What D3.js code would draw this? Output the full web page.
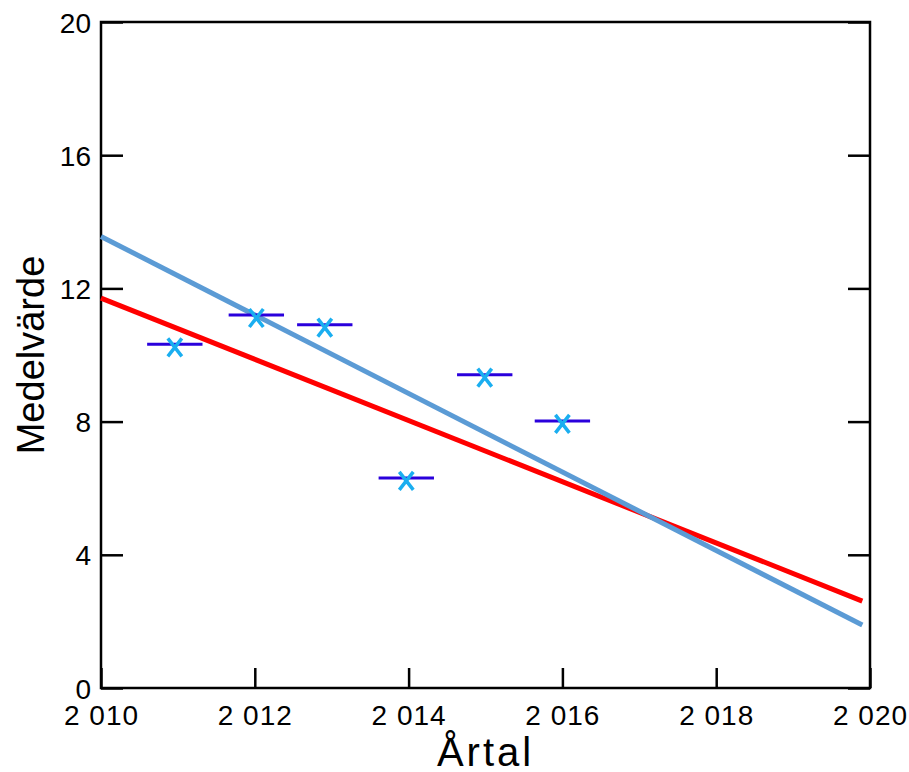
<!DOCTYPE html>
<html>
<head>
<meta charset="utf-8">
<script src="https://cdn.jsdelivr.net/npm/d3@7"></script>
<style>
  body { margin: 0; background: #fff; }
  text { font-family: "Liberation Sans", Arial, sans-serif; }
</style>
</head>
<body>
<script>
var svgWidth = 909;
var svgHeight = 772;

// data
var years = [2010.96, 2012.02, 2012.91, 2013.97, 2014.99, 2016.0];
var means = [10.32, 11.2, 10.91, 6.31, 9.41, 8.02];
var xTicks = [2010, 2012, 2014, 2016, 2018, 2020];
var yTicks = [0, 4, 8, 12, 16, 20];
var lineYears = [2010, 2019.9];
var redLine = [11.71, 2.61];
var blueLine = [13.56, 1.89];

var margin = { left: 101, right: 870, top: 22, bottom: 688 };
var barHalf = 0.36; // half width of horizontal dash, in years

var svg = d3.select("body").append("svg")
  .attr("width", svgWidth).attr("height", svgHeight);

var x = d3.scaleLinear().domain([2010, 2020]).range([margin.left, margin.right]);
var y = d3.scaleLinear().domain([0, 20]).range([margin.bottom, margin.top]);

// bottom axis (ticks inward)
svg.append("g")
  .attr("transform", "translate(0," + margin.bottom + ")")
  .call(d3.axisBottom(x).tickValues(xTicks).tickSize(-20).tickPadding(17)
    .tickFormat(function(d) { var s = d.toString(); return s.slice(0, 1) + " " + s.slice(1); }))
  .call(function(g) {
    g.select(".domain").remove();
    g.selectAll("line").attr("stroke", "#000").attr("stroke-width", 2.5);
    g.selectAll("text").attr("font-size", 28).attr("fill", "#000")
      .attr("letter-spacing", 1);
  });

// left axis
svg.append("g")
  .attr("transform", "translate(" + margin.left + ",0)")
  .call(d3.axisLeft(y).tickValues(yTicks).tickSize(-22).tickPadding(10))
  .call(function(g) {
    g.select(".domain").remove();
    g.selectAll("line").attr("stroke", "#000").attr("stroke-width", 2.5);
    g.selectAll("text").attr("font-size", 28).attr("fill", "#000").attr("dy", "0.36em");
  });

// right axis
svg.append("g")
  .attr("transform", "translate(" + margin.right + ",0)")
  .call(d3.axisRight(y).tickValues(yTicks).tickSize(-22).tickFormat(""))
  .call(function(g) {
    g.select(".domain").remove();
    g.selectAll("line").attr("stroke", "#000").attr("stroke-width", 2.5);
  });

// frame
svg.append("rect")
  .attr("x", margin.left).attr("y", margin.top)
  .attr("width", margin.right - margin.left)
  .attr("height", margin.bottom - margin.top)
  .attr("fill", "none").attr("stroke", "#000").attr("stroke-width", 2.5);

// fitted lines
var line = d3.line()
  .x(function(d, i) { return x(lineYears[i]); })
  .y(function(d) { return y(d); });

svg.append("path").attr("d", line(redLine))
  .attr("fill", "none").attr("stroke", "#ff0000").attr("stroke-width", 5);
svg.append("path").attr("d", line(blueLine))
  .attr("fill", "none").attr("stroke", "#5b9bd5").attr("stroke-width", 5);

// points
var pts = svg.selectAll(".pt").data(years).join("g").attr("class", "pt");

pts.append("line")
  .attr("x1", function(d) { return x(d - barHalf); })
  .attr("x2", function(d) { return x(d + barHalf); })
  .attr("y1", function(d, i) { return y(means[i]); })
  .attr("y2", function(d, i) { return y(means[i]); })
  .attr("stroke", "#2a00dc").attr("stroke-width", 3);

pts.append("path")
  .attr("d", function(d, i) {
    var cx = x(d), cy = y(means[i]) + 3;
    return "M" + (cx - 7) + "," + (cy - 9) + "L" + (cx + 7) + "," + (cy + 9) +
           "M" + (cx + 7) + "," + (cy - 9) + "L" + (cx - 7) + "," + (cy + 9);
  })
  .attr("stroke", "#1aaef0").attr("stroke-width", 3.5).attr("fill", "none");

// axis titles
svg.append("text")
  .attr("x", (margin.left + margin.right) / 2).attr("y", 766)
  .attr("text-anchor", "middle").attr("font-size", 40)
  .attr("letter-spacing", 3)
  .text("Årtal");

svg.append("text")
  .attr("transform", "translate(44," + ((margin.top + margin.bottom) / 2) + ") rotate(-90)")
  .attr("text-anchor", "middle").attr("font-size", 38)
  .text("Medelvärde");
</script>
</body>
</html>
